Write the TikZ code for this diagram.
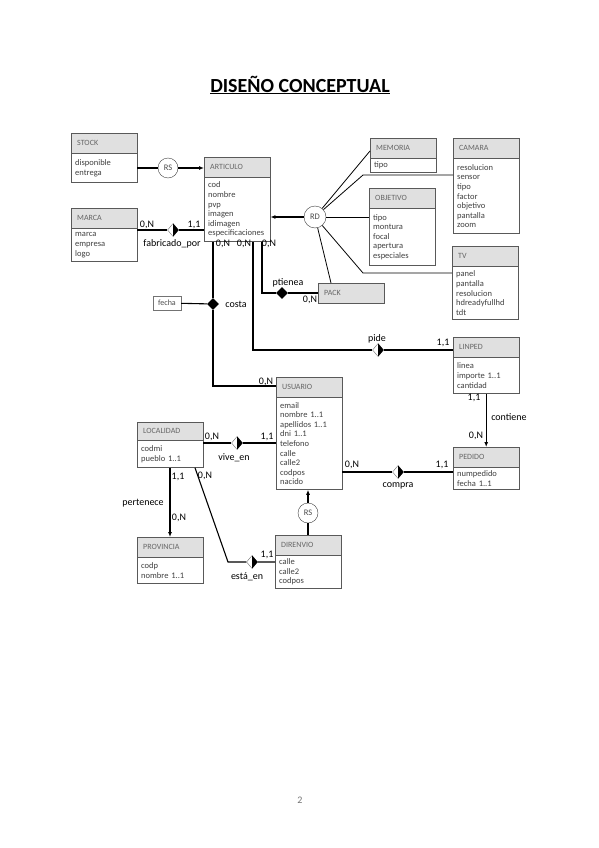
\documentclass[tikz,border=0pt]{standalone}
\usepackage{fontspec}
\setmainfont{Carlito}
\usetikzlibrary{positioning,shapes.geometric,arrows.meta}

\tikzset{
  head/.style={draw=black!65, fill=black!12, anchor=north west, minimum width=66pt,
    minimum height=20pt, text width=54pt, inner xsep=6pt, inner ysep=0pt, align=left,
    text=black!60, font=\fontsize{8}{9}\selectfont},
  attrs/.style={draw=black!65, fill=white, minimum width=66pt, text width=58pt,
    inner xsep=4pt, inner ysep=3pt, align=left, text=black!75,
    font=\fontsize{8.5}{9.6}\selectfont, minimum height=#1},
  card/.style={font=\fontsize{10}{12}\selectfont, inner sep=1pt},
  circ/.style={circle, draw=black!75, fill=white, minimum size=20pt, inner sep=0pt,
    text=black!70, font=\fontsize{8.5}{10}\selectfont},
  rhalf/.style={diamond, draw=black!55, fill=white, minimum width=11pt, minimum height=13pt,
    inner sep=0pt},
  rfull/.style={diamond, fill=black, minimum width=12pt, minimum height=12pt, inner sep=0pt},
  link/.style={line width=1.1pt},
  thin link/.style={line width=0.8pt},
  arr/.style={link, -{Latex[length=5pt,width=4pt]}}
}

\begin{document}
\begin{tikzpicture}[x=1pt,y=-1pt]
  \useasboundingbox[fill=white] (0,0) rectangle (599,848);

  \node[font=\bfseries\fontsize{20}{24}\selectfont] (title) at (300,85) {\underline{DISEÑO CONCEPTUAL}};

  % entidades
  \node[head] (stock) at (71,133) {STOCK};
  \node[attrs=29pt, below=0pt of stock] (stock-b) {disponible\\entrega};

  \node[head] (articulo) at (204,157) {ARTICULO};
  \node[attrs=64pt, below=0pt of articulo] (articulo-b) {cod\\nombre\\pvp\\imagen\\idimagen\\especificaciones};

  \node[head] (marca) at (71,208) {MARCA};
  \node[attrs=33pt, below=0pt of marca] (marca-b) {marca\\empresa\\logo};

  \node[head] (memoria) at (370,138) {MEMORIA};
  \node[attrs=14pt, below=0pt of memoria] (memoria-b) {tipo};

  \node[head] (camara) at (453,138) {CAMARA};
  \node[attrs=75pt, below=0pt of camara] (camara-b) {resolucion\\sensor\\tipo\\factor\\objetivo\\pantalla\\zoom};

  \node[head] (objetivo) at (369,188) {OBJETIVO};
  \node[attrs=57pt, below=0pt of objetivo] (objetivo-b) {tipo\\montura\\focal\\apertura\\especiales};

  \node[head] (tv) at (452,246) {TV};
  \node[attrs=53pt, below=0pt of tv] (tv-b) {panel\\pantalla\\resolucion\\hdreadyfullhd\\tdt};

  \node[head] (pack) at (318,283) {PACK};

  \node[head] (linped) at (453,337) {LINPED};
  \node[attrs=36pt, below=0pt of linped] (linped-b) {linea\\importe 1..1\\cantidad};

  \node[head] (usuario) at (276,377) {USUARIO};
  \node[attrs=92pt, below=0pt of usuario] (usuario-b) {email\\nombre 1..1\\apellidos 1..1\\dni 1..1\\telefono\\calle\\calle2\\codpos\\nacido};

  \node[head, minimum height=18pt] (localidad) at (137,422) {LOCALIDAD};
  \node[attrs=27pt, below=0pt of localidad] (localidad-b) {codmi\\pueblo 1..1};

  \node[head] (pedido) at (453,447) {PEDIDO};
  \node[attrs=22pt, below=0pt of pedido] (pedido-b) {numpedido\\fecha 1..1};

  \node[head] (provincia) at (137,537) {PROVINCIA};
  \node[attrs=26pt, below=0pt of provincia] (provincia-b) {codp\\nombre 1..1};

  \node[head] (direnvio) at (275,535) {DIRENVIO};
  \node[attrs=33pt, below=0pt of direnvio] (direnvio-b) {calle\\calle2\\codpos};

  \node[draw=black!55, text=black!70, minimum width=28pt, minimum height=14pt, inner sep=0pt,
    font=\fontsize{8}{9}\selectfont] (fecha) at (167,303) {fecha};

  % jerarquias
  \node[circ] (rs1) at (168,168) {RS};
  \draw[link] (stock-b.east |- rs1) -- (rs1);
  \draw[arr] (rs1) -- (articulo.west |- rs1);

  \node[circ, minimum size=22pt] (rd) at (315,217) {RD};
  \coordinate (m1) at (370,151);
  \coordinate (c1) at (363,175);
  \coordinate (t1) at (363,273);
  \coordinate (p1) at (331,283);
  \draw[arr] (rd) -- (articulo-b.east |- rd);
  \draw[thin link] (rd) -- (m1);
  \draw[thin link] (rd) -- (c1) -- (camara-b.west |- c1);
  \draw[thin link] (rd) -- (objetivo-b.west |- rd);
  \draw[thin link] (rd) -- (t1) -- (tv-b.west |- t1);
  \draw[thin link] (rd) -- (p1);

  \node[circ] (rs2) at (308,513) {RS};
  \draw[link] (direnvio.north -| rs2) -- (rs2);
  \draw[arr] (rs2) -- (usuario-b.south -| rs2);

  % relaciones
  \node[rhalf] (fab) at (173,230) {};
  \draw[link] (marca-b.east |- fab) -- (fab) -- (articulo-b.west |- fab);
  \node[card] (fab-a) at (147,225) {0,N};
  \node[card] (fab-b) at (194,225) {1,1};
  \node[card] (fab-l) at (172,244) {fabricado\_por};

  \node[rfull] (costa) at (213,304) {};
  \coordinate (u1) at (213,386);
  \draw[link] (articulo-b.south -| costa) -- (costa) -- (u1) -- (usuario.west |- u1);
  \draw[link] (fecha) -- (costa);
  \node[card] (costa-l) at (236,304) {costa};
  \node[card] (costa-a) at (223,244) {0,N};
  \node[card] (costa-b) at (266,382) {0,N};

  \node[rhalf] (pide) at (378,350) {};
  \coordinate (l1) at (253,350);
  \draw[link] (articulo-b.south -| l1) -- (l1) -- (pide) -- (linped.west |- pide);
  \node[card] (pide-l) at (377,339) {pide};
  \node[card] (pide-a) at (244,244) {0,N};
  \node[card] (pide-b) at (443,343) {1,1};

  \node[rfull] (ptienea) at (282,293) {};
  \coordinate (k1) at (262,293);
  \draw[link] (articulo-b.south -| k1) -- (k1) -- (ptienea) -- (pack.west |- ptienea);
  \node[card] (ptienea-l) at (288,283) {ptienea};
  \node[card] (ptienea-a) at (269,244) {0,N};
  \node[card] (ptienea-b) at (310,300) {0,N};

  \draw[arr] (linped-b.south) -- (pedido.north);
  \node[card] (cont-a) at (474,398) {1,1};
  \node[card] (cont-l) at (509,417) {contiene};
  \node[card] (cont-b) at (476,436) {0,N};

  \node[rhalf] (compra) at (398,472) {};
  \draw[link] (usuario-b.east |- compra) -- (compra) -- (pedido-b.west |- compra);
  \node[card] (compra-a) at (352,465) {0,N};
  \node[card] (compra-b) at (442,465) {1,1};
  \node[card] (compra-l) at (398,486) {compra};

  \node[rhalf] (vive) at (237,443) {};
  \draw[link] (localidad-b.east |- vive) -- (vive) -- (usuario-b.west |- vive);
  \node[card] (vive-a) at (212,437) {0,N};
  \node[card] (vive-b) at (267,437) {1,1};
  \node[card] (vive-l) at (234,458) {vive\_en};

  \coordinate (pv) at (170,467);
  \draw[arr] (localidad-b.south -| pv) -- (provincia.north -| pv);
  \node[card] (pert-a) at (178,477) {1,1};
  \node[card] (pert-l) at (143,503) {pertenece};
  \node[card] (pert-b) at (179,518) {0,N};

  \node[rhalf] (esta) at (252,562) {};
  \coordinate (e0) at (195,467);
  \coordinate (e1) at (228,562);
  \draw[link] (localidad-b.south -| e0) -- (e1) -- (esta) -- (direnvio-b.west |- esta);
  \node[card] (esta-a) at (205,476) {0,N};
  \node[card] (esta-b) at (267,555) {1,1};
  \node[card] (esta-l) at (247,577) {está\_en};

  % mitad negra de los rombos
  \foreach \r in {fab,pide,compra,vive,esta}
    \fill (\r.north) -- (\r.east) -- (\r.south) -- cycle;

  \node[text=black!55, font=\fontsize{10}{12}\selectfont] (pagina) at (300,800) {2};
\end{tikzpicture}
\end{document}
